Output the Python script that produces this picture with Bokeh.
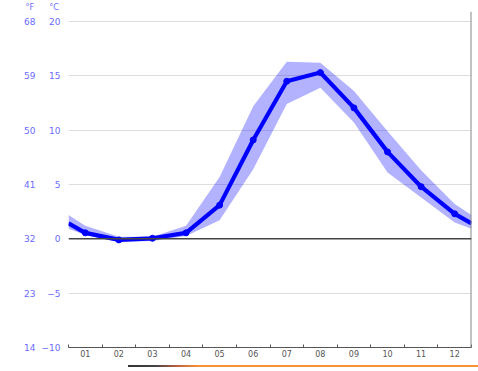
from bokeh.plotting import figure
from bokeh.models import FixedTicker, LinearAxis, Span, Title, Div, ColumnDataSource
from bokeh.layouts import column
from bokeh.embed import file_html
from bokeh.resources import INLINE

months = ["01", "02", "03", "04", "05", "06", "07", "08", "09", "10", "11", "12"]
temp_mean = [0.55, -0.1, 0.05, 0.55, 3.1, 9.1, 14.5, 15.3, 12.05, 8.0, 4.8, 2.3]
temp_high = [1.2, 0.2, 0.2, 1.2, 5.7, 12.2, 16.3, 16.2, 13.6, 9.9, 6.3, 3.2]
temp_low = [0.35, -0.3, -0.2, 0.25, 1.7, 6.4, 12.4, 13.9, 10.7, 6.1, 3.8, 1.5]
c_ticks = [-10, -5, 0, 5, 10, 15, 20]
f_labels = ["14", "23", "32", "41", "50", "59", "68"]
unit_f = "°F"
unit_c = "°C"

n = len(months)
xs = list(range(1, n + 1))
# wrap-around values at the chart edges (mean of Dec and Jan)
edge_mean = (temp_mean[0] + temp_mean[-1]) / 2
edge_high = (temp_high[0] + temp_high[-1]) / 2
edge_low = (temp_low[0] + temp_low[-1]) / 2
line_x = [0.5] + xs + [n + 0.5]
line_y = [edge_mean] + temp_mean + [edge_mean]
band_hi = [edge_high] + temp_high + [edge_high]
band_lo = [edge_low] + temp_low + [edge_low]

LABEL_BLUE = "#6b6bff"

p = figure(width=478, height=362, output_backend="svg", toolbar_location=None,
           x_range=(0.5, n + 0.5), y_range=(-10, 20.92),
           min_border_left=68, min_border_right=7, min_border_top=10, min_border_bottom=15)
p.outline_line_color = None
p.background_fill_color = "white"
p.border_fill_color = "white"

p.xgrid.grid_line_color = None
p.ygrid.ticker = FixedTicker(ticks=[t for t in c_ticks if t not in (-10, 0)])
p.ygrid.grid_line_color = "#dddddd"
p.ygrid.grid_line_width = 1

# x axis
xa = p.xaxis[0]
xa.ticker = FixedTicker(ticks=xs, minor_ticks=[i + 0.5 for i in range(0, n + 1)])
xa.major_label_overrides = {i: m for i, m in zip(xs, months)}
xa.major_tick_line_color = None
xa.major_tick_in = 0
xa.major_tick_out = 0
xa.minor_tick_in = 3
xa.minor_tick_out = 0
xa.minor_tick_line_color = "#555555"
xa.axis_line_color = "#555555"
xa.major_label_text_font = "DejaVu Sans"
xa.major_label_text_font_size = "8px"
xa.major_label_text_color = "#555555"
xa.major_label_standoff = 2

# Celsius axis
ya = p.yaxis[0]
ya.ticker = FixedTicker(ticks=c_ticks)
ya.axis_line_color = None
ya.major_tick_line_color = None
ya.minor_tick_line_color = None
ya.major_tick_in = 0
ya.major_tick_out = 0
ya.minor_tick_out = 0
ya.major_label_standoff = 8
ya.major_label_text_font = "DejaVu Sans"
ya.major_label_text_font_size = "9px"
ya.major_label_text_color = LABEL_BLUE

# Fahrenheit axis
fa = LinearAxis(ticker=FixedTicker(ticks=c_ticks),
                major_label_overrides={c: f for c, f in zip(c_ticks, f_labels)},
                axis_line_color=None, major_tick_line_color=None, minor_tick_line_color=None,
                major_tick_in=0, major_tick_out=0, minor_tick_out=0,
                major_label_standoff=3, major_label_text_font="DejaVu Sans",
                major_label_text_font_size="9px", major_label_text_color=LABEL_BLUE)
p.add_layout(fa, "left")

# unit header above the two tick-label columns
p.add_layout(Title(text=unit_f + "\u00a0" * 6 + unit_c, align="left", offset=-43, standoff=0,
                   text_font="DejaVu Sans", text_font_size="8px", text_font_style="normal",
                   text_color=LABEL_BLUE), "above")

# right border line
p.add_layout(Span(location=n + 0.5, dimension="height", line_color="#888888", line_width=2))

# zero line
p.add_layout(Span(location=0, dimension="width", line_color="#444444", line_width=1.5))

src = ColumnDataSource(dict(x=line_x, y=line_y, hi=band_hi, lo=band_lo))
p.varea(x="x", y1="lo", y2="hi", source=src, fill_color="#0000ff", fill_alpha=0.3)
p.line(x="x", y="y", source=src, line_color="#0000ff", line_width=4.2)
p.scatter(x=xs, y=temp_mean, size=6, fill_color="#0000ff", line_color="#0000ff")

div = Div(text='<div style="position:fixed;left:128px;top:365px;width:350px;height:2px;'
               'background:linear-gradient(to right,#333 0%,#444 8%,#c06040 14%,#f7913a 20%,#f7913a 100%);"></div>',
          width=10, height=1)

layout = column(p, div)
open("out.html", "w").write(file_html(layout, INLINE))
